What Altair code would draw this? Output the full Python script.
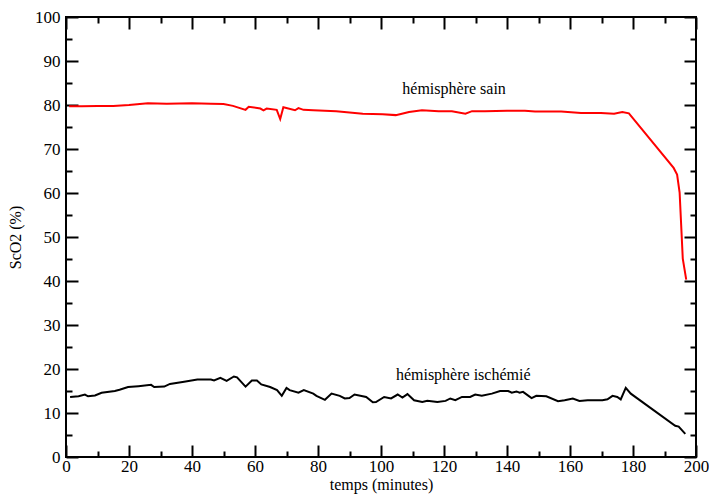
import altair as alt
import pandas as pd

# --- data ---
t_sain = [1, 5, 10, 15, 20, 26, 32, 40, 46, 50, 53, 57, 58, 61.7, 62.7,
          63.7, 66.9, 68, 69, 72.7, 73.8, 75.4, 78.5, 85.8, 94.2,
          100.5, 104.7, 108.9, 113, 118.3, 122.5, 126.8, 128.9, 133, 140,
          145.7, 148.9, 157.2, 163.5, 169.8, 174, 176.6, 178.7, 192.9, 194,
          194.8, 195.8, 196.9]
v_sain = [79.7, 79.7, 79.8, 79.8, 80.0, 80.4, 80.3, 80.4, 80.3, 80.2,
          79.8, 78.9, 79.6, 79.2, 78.8, 79.2, 78.9, 76.8, 79.5, 78.8,
          79.3, 78.9, 78.8, 78.6, 78.0, 77.9, 77.7, 78.4, 78.8, 78.6,
          78.6, 78.0, 78.6, 78.6, 78.7, 78.7, 78.5, 78.5, 78.2, 78.2,
          78.0, 78.4, 78.1, 65.7, 64.2, 60.1, 45.1, 40.3]

t_isch = [1.3, 4, 6, 7, 9.2, 11.3, 15.5, 17, 19.7, 23, 27, 28, 31.2, 33, 37.5,
          41.7, 46, 47, 49, 51, 53.3, 54.3, 57, 59, 60.6, 62, 64.8, 67, 68.5, 70,
          71, 73.8, 75.5, 78.5, 79.5, 82.2, 84.3, 86.9, 88.5, 90, 91.6, 95.3,
          97.4, 98.4, 101, 103.2, 105.3, 106.8, 108.4, 110.5, 113.1, 114.7,
          117.9, 120.5, 122, 123.6, 125.7, 128.3, 129.9, 132, 135.2, 137.8,
          140.4, 141.5, 143, 144, 145.1, 147.8, 149.3, 152.5, 156.2, 158.3,
          160.9, 163, 165.6, 170.3, 171.9, 173.5, 175, 176.1, 177.7, 179.3,
          193.4, 194.5, 196.6]
v_isch = [13.65, 13.8, 14.2, 13.8, 14.0, 14.6, 15.0, 15.3, 15.9, 16.1,
          16.4, 15.9, 16.0, 16.6, 17.1, 17.6, 17.6, 17.4, 18.0, 17.3,
          18.3, 18.1, 16.0, 17.4, 17.4, 16.5, 15.9, 15.2, 13.9, 15.7,
          15.2, 14.6, 15.2, 14.4, 13.9, 13.0, 14.4, 13.9, 13.3, 13.4,
          14.2, 13.65, 12.45, 12.5, 13.65, 13.3, 14.2, 13.5, 14.3, 12.9,
          12.5, 12.8, 12.5, 12.75, 13.3, 12.9, 13.65, 13.65, 14.2, 13.9,
          14.4, 15.0, 15.0, 14.6, 14.9, 14.6, 14.8, 13.4, 13.9, 13.8,
          12.7, 12.9, 13.3, 12.75, 12.9, 12.9, 13.1, 13.9, 13.65, 13.1,
          15.7, 14.4, 7.1, 6.9, 5.25]

series_names = ["hémisphère sain", "hémisphère ischémié"]
series_colors = ["#ff0000", "#000000"]

label_text = ["hémisphère sain", "hémisphère ischémié"]
label_x = [123.2, 126.1]
label_y = [83.7, 18.75]

x_major = list(range(0, 201, 20))
x_minor = list(range(10, 200, 20))
y_major = list(range(0, 101, 10))
y_minor = list(range(5, 100, 10))

df = pd.DataFrame({
    "t": t_sain + t_isch,
    "v": v_sain + v_isch,
    "serie": [series_names[0]] * len(t_sain) + [series_names[1]] * len(t_isch),
})
lab_df = pd.DataFrame({"x": label_x, "y": label_y, "label": label_text})

FONT = "Liberation Serif"
xs = alt.Scale(domain=[0, 200], nice=False, zero=False)
ys = alt.Scale(domain=[0, 100], nice=False, zero=False)


def tick_axis(orient, values, size, labels=False, title=None, **kw):
    return alt.Axis(orient=orient, values=values, tickSize=size, offset=-size,
                    tickWidth=2, tickColor="black", domain=False, grid=False,
                    labels=labels, title=title, labelFlush=False, **kw)


ax_bottom = tick_axis("bottom", x_major, 12, labels=True, title="temps (minutes)",
                      labelPadding=1, titlePadding=2)
ax_left = tick_axis("left", y_major, 12, labels=True, title="ScO2 (%)",
                    labelPadding=6, titlePadding=11)

lines = alt.Chart(df).mark_line(strokeWidth=2).encode(
    x=alt.X("t:Q", scale=xs, axis=ax_bottom),
    y=alt.Y("v:Q", scale=ys, axis=ax_left),
    color=alt.Color("serie:N", scale=alt.Scale(domain=series_names, range=series_colors),
                    legend=None),
)

labels = alt.Chart(lab_df).mark_text(font=FONT, fontSize=16, color="black").encode(
    x=alt.X("x:Q", scale=xs, axis=None),
    y=alt.Y("y:Q", scale=ys, axis=None),
    text="label:N",
)


def ghost(xaxis, yaxis):
    return alt.Chart(df).mark_point(opacity=0, size=1).encode(
        x=alt.X("t:Q", scale=xs, axis=xaxis),
        y=alt.Y("v:Q", scale=ys, axis=yaxis),
    )


g1 = ghost(tick_axis("bottom", x_minor, 6), tick_axis("left", y_minor, 6))
g2 = ghost(tick_axis("top", x_major, 12), tick_axis("right", y_major, 12))
g3 = ghost(tick_axis("top", x_minor, 6), tick_axis("right", y_minor, 6))

chart = alt.layer(lines, labels, g1, g2, g3).resolve_scale(
    x="independent", y="independent"
).resolve_axis(
    x="independent", y="independent"
).properties(
    width=630, height=440,
    autosize=alt.AutoSizeParams(type="none"),
    padding={"left": 58, "top": 9, "right": 13, "bottom": 37},
).configure_view(
    stroke="black", strokeWidth=2
).configure_axis(
    labelFont=FONT, labelFontSize=17, labelColor="black",
    titleFont=FONT, titleFontSize=16, titleFontWeight="normal", titleColor="black",
)

chart.save("out.html", embed_options={"renderer": "svg", "actions": False})
